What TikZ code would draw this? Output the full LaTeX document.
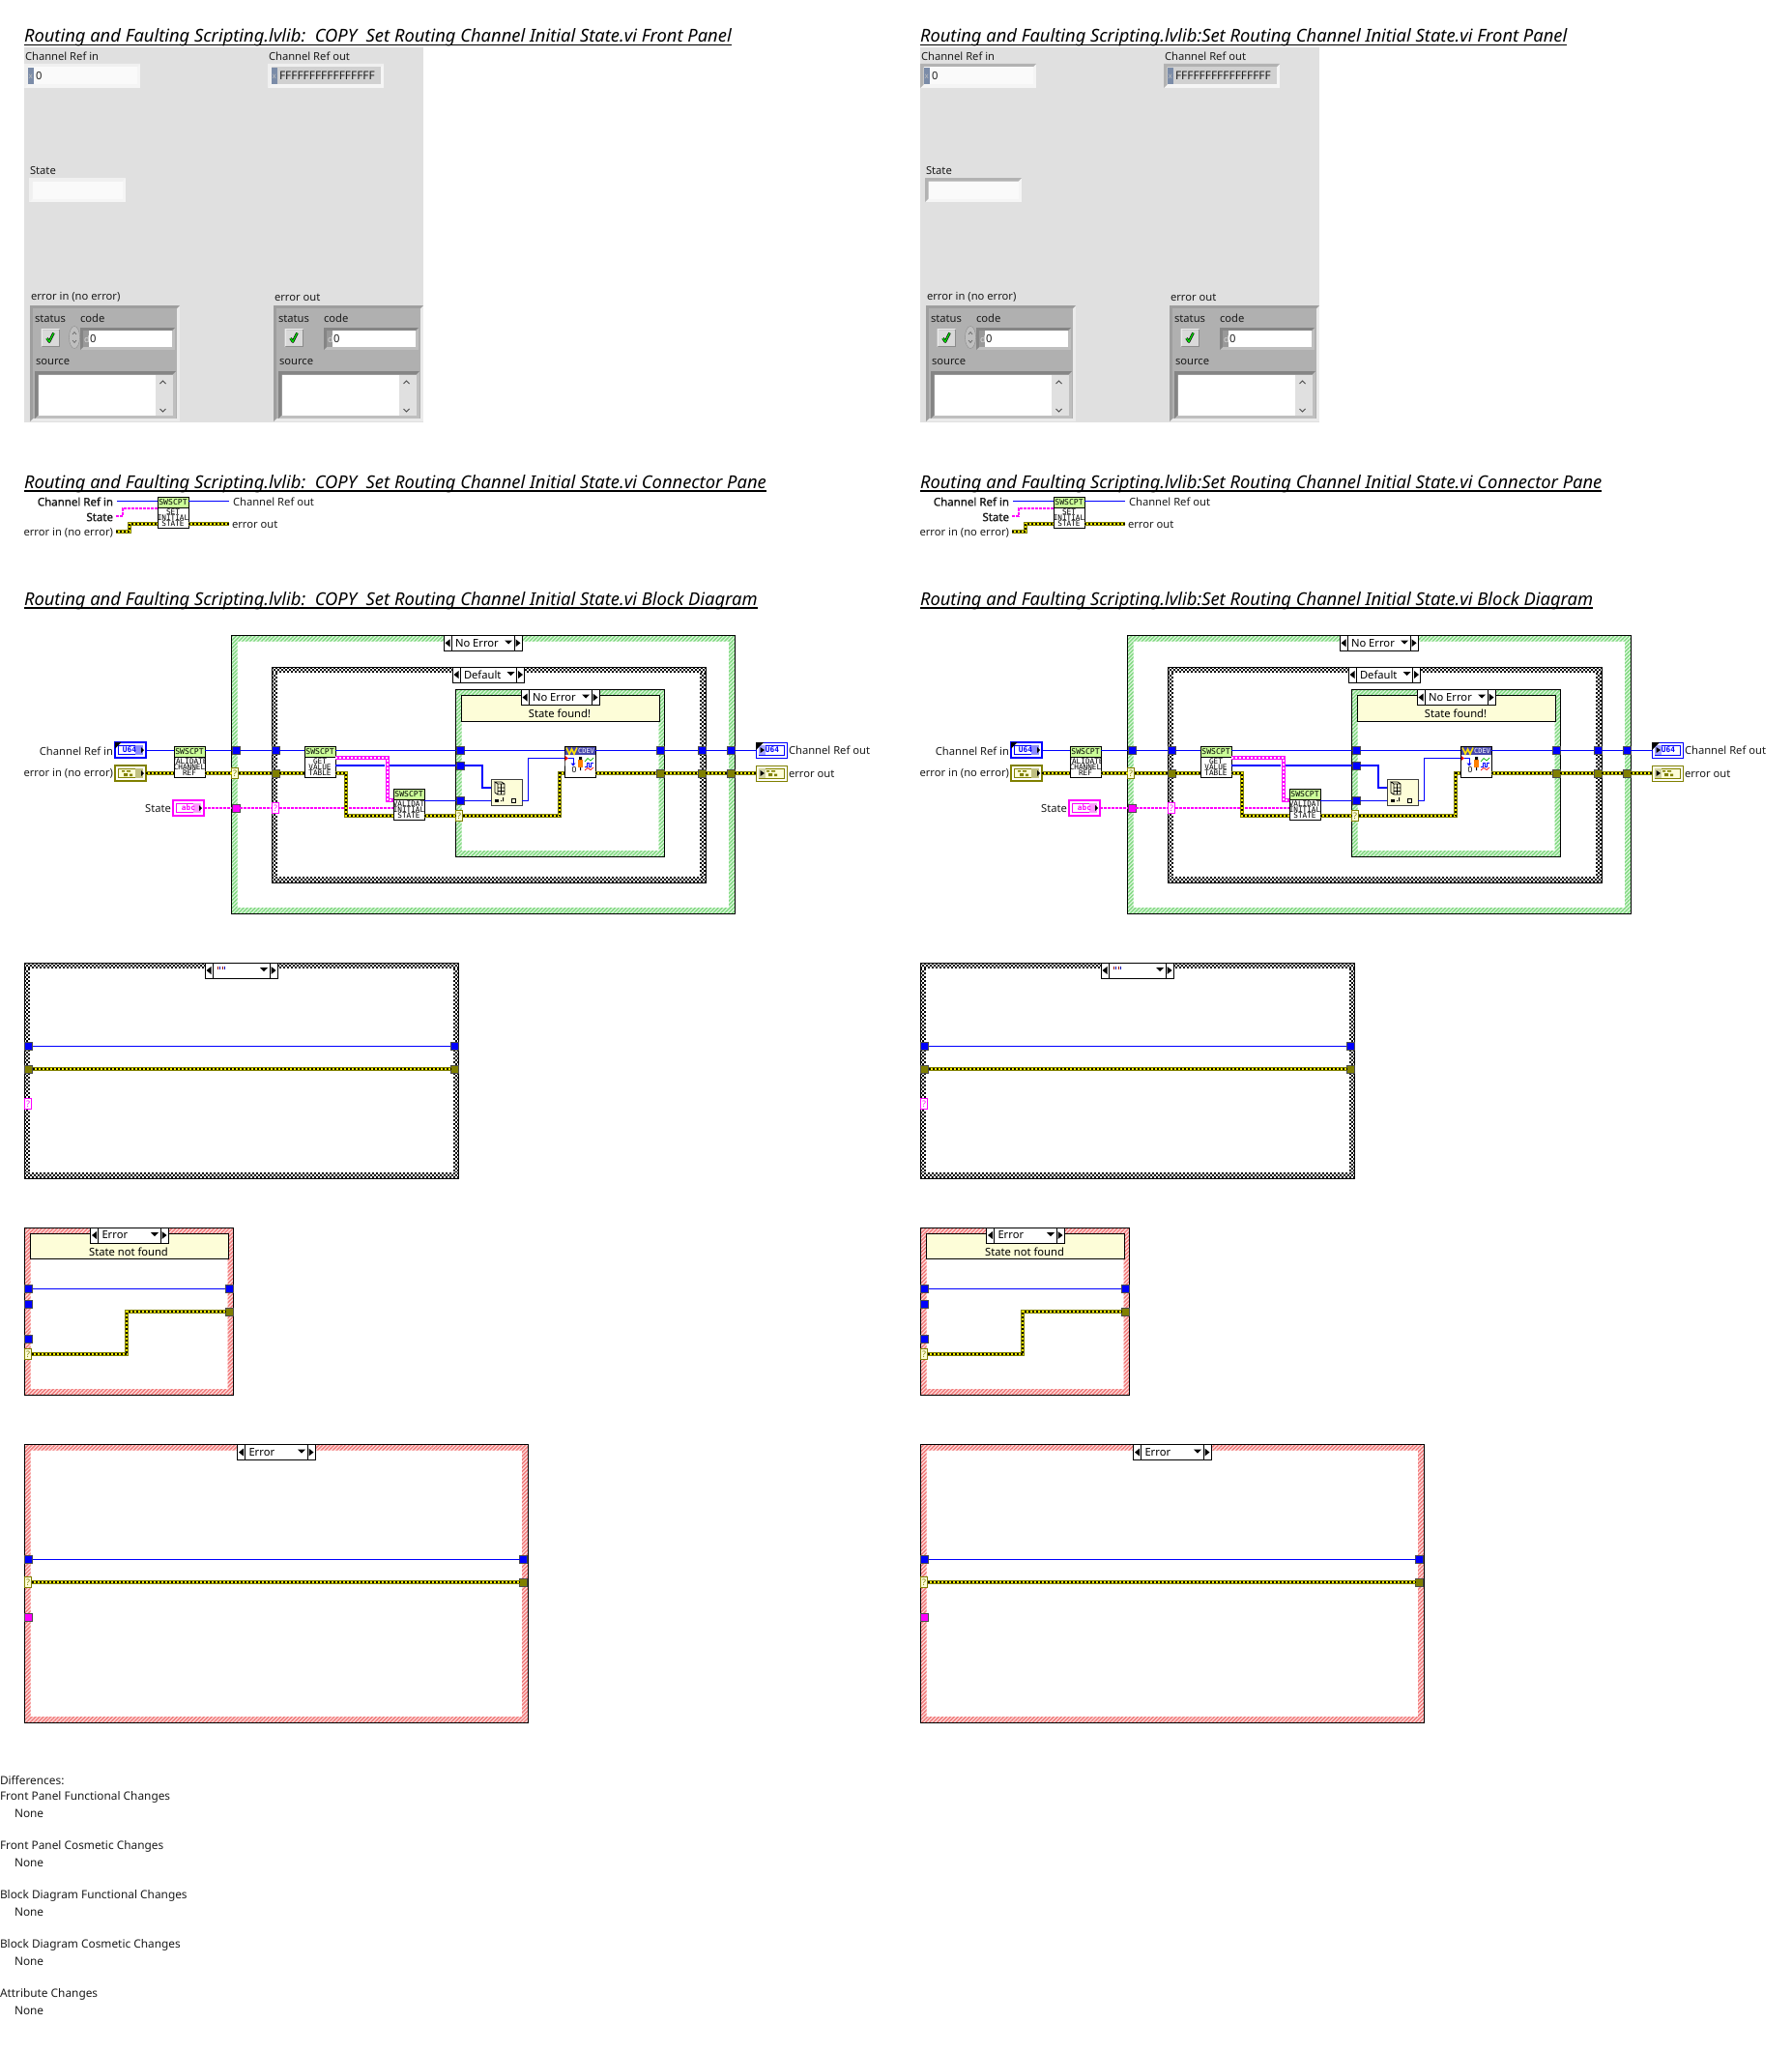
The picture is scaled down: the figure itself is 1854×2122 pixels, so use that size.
\documentclass[tikz,border=0pt]{standalone}
\usepackage{fontspec}
\setmainfont{Noto Sans}
\newfontfamily\iconfont{DejaVu Sans Mono}
\newfontfamily\lvboldfont[FakeBold=1.4]{Noto Sans}
\usetikzlibrary{patterns,patterns.meta}
\definecolor{lvolive}{HTML}{808000}
\definecolor{lvpanel}{HTML}{E0E0E0}
\definecolor{lvcluster}{HTML}{B0B0B0}
\definecolor{lvnote}{HTML}{FDFDD8}
\definecolor{lvgreen}{HTML}{CCFF99}
\definecolor{lvtxt}{HTML}{1C1C1C}
\definecolor{lvradix}{HTML}{7B8CA8}
\definecolor{lvblue}{HTML}{0000FF}
\definecolor{lvpink}{HTML}{FF00FF}
\definecolor{stripegreen}{HTML}{80D880}
\definecolor{basegreen}{HTML}{E0F8E0}
\definecolor{stripered}{HTML}{F07878}
\definecolor{basered}{HTML}{FFE0E0}
\colorlet{fpdark}{white}
\tikzset{
  lbl/.style={anchor=west,inner sep=0,outer sep=0,text=lvtxt,font=\fontsize{11.2}{13}\selectfont},
  lblr/.style={lbl,anchor=east},
  lblb/.style={lblr,font=\fontsize{11.5}{13}\lvboldfont},
  lbld/.style={lbl,font=\fontsize{11.85}{14}\selectfont},
  pagetitle/.style={anchor=base west,inner sep=0,outer sep=0,text=black,font=\fontsize{18.35}{21}\selectfont\itshape},
  rule/.style={line width=1.6pt,black},
  bw/.style={draw=lvblue,line width=1pt},
  bwt/.style={draw=lvblue,line width=2pt,line join=miter},
  errw/.style={draw=lvolive,line width=3.6pt,line join=miter,
    postaction={draw=yellow,line width=1.6pt},
    postaction={draw=black,line width=1.6pt,dash pattern=on 2pt off 2pt}},
  pw/.style={draw=lvpink,line width=1.5pt,dash pattern=on 3pt off 1pt},
  pwa/.style={draw=lvpink,line width=4pt,line join=miter,
    postaction={draw=white,line width=1.4pt,dash pattern=on 2pt off 2pt}},
  tb/.style={draw=black!70,line width=.8pt,fill=lvblue,minimum size=8pt,inner sep=0,outer sep=0},
  te/.style={tb,fill=lvolive},
  tp/.style={tb,fill=lvpink},
  qe/.style={draw=lvolive,line width=.8pt,fill=lvnote,minimum width=7pt,minimum height=11.5pt,inner sep=0,outer sep=0,text=lvolive,font=\fontsize{9}{9}\selectfont},
  qp/.style={qe,draw=lvpink,fill=white,text=lvpink},
  stripes/.style={pattern={Lines[angle=45,distance=2.8pt,line width=1.4pt]}},
  chkline/.style={black,line width=2pt,dash pattern=on 2pt off 2pt},
  iconline/.style={inner sep=0,outer sep=0,font=\fontsize{7.7}{8}\iconfont,text=black},
}
\newcommand\rbox[6][]{%
  \pgfmathsetmacro\lvcx{(#3+#5)/2}\pgfmathsetmacro\lvcy{(#4+#6)/2}%
  \pgfmathsetmacro\lvw{#5-#3}\pgfmathsetmacro\lvh{#6-#4}%
  \node[rectangle,inner sep=0,outer sep=0,minimum width=\lvw pt,minimum height=\lvh pt,#1] (#2) at (\lvcx,\lvcy) {};}
\newcommand\bezel[8]{% x0 y0 x1 y1 w dark light inner
  \fill[#7] (#1,#2) rectangle (#3,#4);
  \fill[#6] (#1,#2) -- (#3,#2) -- (#3-#5,#2+#5) -- (#1+#5,#2+#5) -- (#1+#5,#4-#5) -- (#1,#4) -- cycle;
  \fill[#8] (#1+#5,#2+#5) rectangle (#3-#5,#4-#5);}
\newcommand\ring[6]{% name colour-suffix x0 y0 x1 y1
  \fill[base#2,even odd rule] (#3,#4) rectangle (#5,#6) (#3+6,#4+6) rectangle (#5-6,#6-6);
  \path[stripes,pattern color=stripe#2,even odd rule] (#3,#4) rectangle (#5,#6) (#3+6,#4+6) rectangle (#5-6,#6-6);
  \rbox[draw=black,line width=1pt]{#1}{#3}{#4}{#5}{#6}}
\newcommand\checkring[5]{% name x0 y0 x1 y1
  \foreach \lvi/\lvp in {1/0pt,3/2pt,5/0pt}{
    \draw[chkline,dash phase=\lvp] (#2,#3+\lvi) -- (#4,#3+\lvi);
    \draw[chkline,dash phase=\lvp] (#2,#5-\lvi) -- (#4,#5-\lvi);
    \draw[chkline,dash phase=\lvp] (#2+\lvi,#3+6) -- (#2+\lvi,#5-6);
    \draw[chkline,dash phase=\lvp] (#4-\lvi,#3+6) -- (#4-\lvi,#5-6);
  }
  \rbox[draw=black,line width=1pt]{#1}{#2}{#3}{#4}{#5}}
\newcommand\selector[6]{% name x0 y0 x1 y1 text
  \rbox[draw=black,line width=1pt,fill=white]{#1}{#2}{#3}{#4}{#5}
  \draw[black,line width=1pt] (#2+8,#3) -- (#2+8,#5) (#4-8,#3) -- (#4-8,#5);
  \fill[black] (#2+1.5,#3/2+#5/2) -- (#2+6.5,#3/2+#5/2-4) -- (#2+6.5,#3/2+#5/2+4) -- cycle;
  \fill[black] (#4-1.5,#3/2+#5/2) -- (#4-6.5,#3/2+#5/2-4) -- (#4-6.5,#3/2+#5/2+4) -- cycle;
  \fill[black] (#4-18,#3+5) -- (#4-10,#3+5) -- (#4-14,#3+9) -- cycle;
  \node[lbl,text=black] (#1-t) at (#2+12,#3/2+#5/2) {#6};}
\newcommand\swicon[6]{% name x0 y0 l1 l2 l3
  \rbox[fill=white]{#1}{#2}{#3}{#2+32}{#3+32}
  \fill[lvgreen] (#2,#3) rectangle (#2+32,#3+11);
  \begin{scope}
    \clip (#2,#3) rectangle (#2+32,#3+32);
    \node[iconline,font=\fontsize{8.1}{8}\iconfont] (#1-h) at (#2+16,#3+5.5) {SWSCPT};
    \node[iconline] (#1-a) at (#2+16,#3+15.5) {#4};
    \node[iconline] (#1-b) at (#2+16,#3+21.3) {#5};
    \node[iconline] (#1-c) at (#2+16,#3+27.3) {#6};
  \end{scope}
  \draw[black,line width=1pt] (#2,#3+11) -- (#2+32,#3+11) (#2,#3) rectangle (#2+32,#3+32);}
\newcommand\blocks[3]{% x y colour : cluster glyph
  \fill[#3] (#1,#2) rectangle (#1+3,#2+1.5) (#1+5,#2) rectangle (#1+9,#2+1.5)
            (#1+2,#2+3) rectangle (#1+6,#2+6) (#1+8,#2+3.5) rectangle (#1+11,#2+6);}
\newcommand\chk[2]{% centre x y : green check
  \draw[black,line width=2.6pt,line join=round] (#1-3.5,#2+0.5) -- (#1-1,#2+4) -- (#1+3.5,#2-5);
  \draw[green!90!black,line width=1.3pt,line join=round] (#1-3.5,#2+0.5) -- (#1-1,#2+4) -- (#1+3.5,#2-5);}
\newcommand\errcluster[4]{% name dx withspinner code-label-dx
  \begin{scope}[xshift=#2pt]
  \bezel{31}{316}{186}{436}{3}{black!38}{black!8}{lvcluster}
  \node[lbl] (#1-status) at (36,330) {status};
  \node[lbl] (#1-code) at (83,329) {code};
  \bezel{42.5}{340}{62}{359}{1.5}{black!8}{black!45}{black!15}
  \chk{52}{349.5}
  #3
  \bezel{83}{339}{181}{362}{3}{black!48}{black!25}{white}
  \fill[black!40] (86,342) rectangle (92,359);
  \node[lbl,text=black!15,font=\fontsize{9}{9}\selectfont] (#1-d) at (87,351) {d};
  \node[lbl] (#1-zero) at (93,350.5) {0};
  \node[lbl] (#1-source) at (37,374) {source};
  \bezel{36}{384}{182}{433}{3.5}{black!48}{black!25}{white}
  \fill[lvpanel] (161,387.5) rectangle (178.5,429.5);
  \draw[black!70,line width=1pt] (165.5,397) -- (168.5,394) -- (171.5,397) (165.5,423) -- (168.5,426) -- (171.5,423);
  \end{scope}}
\newcommand\lvfront[1]{%
  \node[pagetitle] (t1) at (25,44) {#1 Front Panel};
  \draw[rule] ([yshift=-2.5pt]t1.base west) -- ([yshift=-2.5pt]t1.base east);
  \fill[lvpanel] (25,49) rectangle (438,437);
  \node[lbl] (fcri) at (26,58) {Channel Ref in};
  \bezel{25}{66}{145}{91}{3.5}{fpdark}{black!4}{black!2}
  \fill[lvradix] (29,70) rectangle (35,87);
  \node[lbl,text=black!25,font=\fontsize{8}{8}\selectfont] (fcri-x) at (29.5,79.5) {x};
  \node[lbl] (fcri-v) at (37,78.5) {0};
  \node[lbl] (fcro) at (278,58) {Channel Ref out};
  \bezel{277}{66}{397}{91}{3.5}{fpdark}{black!4}{black!18}
  \fill[lvradix] (281,70) rectangle (287,87);
  \node[lbl,text=black!25,font=\fontsize{8}{8}\selectfont] (fcro-x) at (281.5,79.5) {x};
  \node[lbl,font=\fontsize{11.9}{13}\selectfont] (fcro-v) at (289,78.5) {FFFFFFFFFFFFFFFF};
  \node[lbl] (fst) at (31,177) {State};
  \bezel{30}{184}{130}{209}{3.5}{fpdark}{black!4}{black!2}
  \node[lbl] (fei) at (32,307.5) {error in (no error)};
  \node[lbl] (feo) at (284,308) {error out};
  \errcluster{cei}{0}{%
    \draw[black!45,fill=black!25] (77,349) ellipse [x radius=5.5,y radius=11.5];
    \draw[black!60,line width=.7pt] (75,346) -- (77,343.5) -- (79,346) (75,352) -- (77,354.5) -- (79,352);}{}
  \errcluster{ceo}{252}{}{}
}
\newcommand\lvpane[1]{%
  \node[pagetitle] (t2) at (25,505.5) {#1 Connector Pane};
  \draw[rule] ([yshift=-2.5pt]t2.base west) -- ([yshift=-2.5pt]t2.base east);
  \swicon{cpi}{163}{514}{SET}{INITIAL}{STATE}
  \node[lblb] (cp1) at (117,519) {Channel Ref in};
  \node[lblb] (cp2) at (117,535) {State};
  \node[lblr] (cp3) at (117,551) {error in (no error)};
  \node[lbl] (cp4) at (241,519) {Channel Ref out};
  \node[lbl] (cp5) at (240,543) {error out};
  \coordinate (cpa) at (121,518.5);
  \coordinate (cpz) at (237,518.5);
  \draw[bw] (cpa) -- (cpa -| cpi.west);
  \draw[bw] (cpa -| cpi.east) -- (cpz);
  \coordinate (cpb) at (127,526);
  \draw[pw] (120,534) coordinate (cpp) -- (cpp -| cpb) -- (cpb) -- (cpb -| cpi.west);
  \coordinate (cpc) at (134,542);
  \draw[errw] (120,550) coordinate (cpe) -- (cpe -| cpc) -- (cpc) -- (cpc -| cpi.west);
  \draw[errw] (cpc -| cpi.east) -- (237,542);
}
\newcommand\termin[7]{% name y-top x-left main inner-fill patch glyph
  \rbox[draw=#4,line width=1.6pt,fill=white]{#1}{#3+.8}{#2+.8}{#3+31.2}{#2+15.2}
  \fill[#5] (#3+3,#2+3) rectangle (#3+29,#2+13);
  \draw[#4,line width=.8pt] (#3+3.5,#2+3.5) rectangle (#3+28.5,#2+12.5);
  \fill[#6] (#3+21,#2+3) rectangle (#3+29,#2+13);
  #7
  \fill[black] (#3+30,#2+8) -- (#3+27,#2+5) -- (#3+27,#2+11) -- cycle;}
\newcommand\termout[7]{% name y-top x-left main inner-fill patch glyph
  \rbox[draw=#4,line width=1pt,fill=white]{#1}{#3+.5}{#2+.5}{#3+31.5}{#2+15.5}
  \fill[#5] (#3+2,#2+2) rectangle (#3+30,#2+14);
  \draw[#4,line width=.8pt] (#3+3,#2+3) rectangle (#3+29,#2+13);
  \fill[#6] (#3+3,#2+3) rectangle (#3+10,#2+13);
  #7
  \fill[black] (#3+9,#2+8) -- (#3+4.5,#2+5) -- (#3+4.5,#2+11) -- cycle;}
\newcommand\ugl[2]{\node[inner sep=0,outer sep=0,text=#2,font=\fontsize{7.8}{8}\iconfont\bfseries] at (#1) {U64};}
\newcommand\lvblock[1]{%
  \node[pagetitle] (t3) at (25,626.5) {#1 Block Diagram};
  \draw[rule] ([yshift=-2.5pt]t3.base west) -- ([yshift=-2.5pt]t3.base east);
  % structures
  \ring{sOut}{green}{239.5}{657.5}{760}{945}
  \checkring{sMid}{281}{690}{730}{913}
  \ring{sIn}{green}{471.5}{713.5}{687.5}{886}
  \selector{selOut}{459}{657.5}{540}{673}{No Error}
  \selector{selMid}{468}{690}{542.5}{706}{Default}
  \rbox[draw=black,line width=1pt,fill=lvnote]{note}{477}{719.5}{682}{746}
  \selector{selIn}{539}{713.5}{620}{729.5}{No Error}
  \node[lbl,anchor=center,text=black] (note-t) at (579,738) {State found!};
  % terminals
  \termin{cri}{768}{119}{lvblue}{white}{blue!45!white}{\ugl{134,776}{lvblue}}
  \fill[black] (119,768) -- (125.5,768) -- (119,774.5) -- cycle;
  \termin{ein}{792}{119}{lvolive}{lvnote}{lvolive!50!white}{\blocks{126}{797}{lvolive}}
  \termin{st}{828}{179}{lvpink}{white}{lvpink!40!white}{\node[inner sep=0,outer sep=0,text=lvpink,font=\fontsize{7.8}{8}\iconfont\bfseries] at (195,836) {abc};}
  \termout{cro}{768}{782}{lvblue}{white}{blue!35!white}{\ugl{799,776}{lvblue}}
  \fill[black] (782,768) -- (790,768) -- (782,776) -- cycle;
  \termout{eou}{792}{782}{lvolive}{lvnote}{lvolive!35!white}{\blocks{793}{797}{lvolive}}
  \node[lblr] (lcri) at (117,777) {Channel Ref in};
  \node[lblr] (lei) at (117,800.5) {error in (no error)};
  \node[lblr] (lst) at (177,836) {State};
  \node[lbl] (lcro) at (816,776) {Channel Ref out};
  \node[lbl] (leo) at (816,800.5) {error out};
  % subVIs
  \swicon{vcr}{180}{772}{VALIDATE}{CHANNEL}{REF}
  \swicon{gvt}{315}{772}{GET}{VALUE}{TABLE}
  \swicon{vis}{407}{816}{VALIDAT}{INITIAL}{STATE}
  \rbox[draw=black!75,line width=1pt,fill=lvnote]{grp}{508}{806}{540}{833}
  \draw[black,line width=.7pt] (515,811) rectangle (522,822) (515,815) -- (522,815) (515,818.5) -- (522,818.5) (518.5,811) -- (518.5,822)
    (515,811) -- (512,809) -- (519,809) -- (522,811) (512,809) -- (512,820) -- (515,822);
  \fill[black] (512,827) rectangle (516,830);
  \fill[black] (518,828) rectangle (519,829) (520,825) rectangle (521,829);
  \draw[black,line width=.8pt] (529,826) rectangle (533,830);
  \rbox[fill=white]{cdev}{584}{772}{616}{804}
  \fill[black!10!blue!45!gray] (584,772) rectangle (616,781);
  \draw[yellow!85!orange,line width=1.6pt] (586,773.5) -- (589,780) -- (591.5,775) -- (594,780) -- (597,773.5);
  \node[inner sep=0,outer sep=0,text=white,font=\fontsize{7}{7}\iconfont] (cdev-t) at (606.5,776.5) {CDEV};
  \fill[red] (584,781.5) -- (588,784.5) -- (584,787.5) -- cycle;
  \draw[lvblue,line width=.8pt] (588,784) -- (593,784) -- (593,791);
  \fill[lvblue] (590.5,789.5) -- (595.5,789.5) -- (593,792.5) -- cycle;
  \node[inner sep=0,outer sep=0,text=black,font=\fontsize{8.5}{9}\selectfont] (cdev-z) at (594,796) {0};
  \fill[orange] (598,786) rectangle (603,794);
  \fill[black] (599,783) rectangle (602,786) (600,794) rectangle (601,797);
  \draw[green!70!black,line width=.7pt] (605,788) -- (608,784.5) -- (611,787) -- (614,784);
  \draw[lvblue,line width=.9pt] (605,793) -- (607,793) -- (607,789.5) -- (609,789.5) -- (609,793) -- (611,793) -- (611,789.5) -- (614,789.5);
  \draw[red,line width=.7pt] (605,797) -- (608,794.5) -- (611,796.5) -- (614,794);
  \draw[black,line width=1pt] (584,781) -- (584,772) -- (616,772) -- (616,804) -- (584,804) -- cycle;
  % tunnels
  \node[tb] (a1) at (244,776) {}; \node[qe] (b1) at (243,800) {?}; \node[tp] (c1) at (244,836) {};
  \node[tb] (a2) at (285,776) {}; \node[te] (b2) at (285,800) {}; \node[qp] (c2) at (285,836) {?};
  \node[tb] (a3) at (476,776) {}; \node[tb] (d3) at (476,792) {}; \node[tb] (f3) at (476,828) {};
  \node[qe] (e3) at (475,844) {?};
  \node[tb] (a4) at (683,776) {}; \node[te] (b4) at (683,800) {};
  \node[tb] (a5) at (726,776) {}; \node[te] (b5) at (726,800) {};
  \node[tb] (a6) at (756,776) {}; \node[te] (b6) at (756,800) {};
  % bends
  \coordinate (bend1) at (358,800); \coordinate (bend2) at (358,844);
  \coordinate (bend3) at (579,844); \coordinate (bend4) at (579,800);
  \coordinate (gap1) at (356,836);  \coordinate (gap2) at (361,836);
  \coordinate (pa1) at (347,784);   \coordinate (pa2) at (401,784); \coordinate (pa3) at (401,828); \coordinate (pa4) at (407,828);
  \coordinate (th0) at (347,792);   \coordinate (th1) at (398,792); \coordinate (th2) at (403,792);
  \coordinate (th3) at (499,792);   \coordinate (th4) at (499,815); \coordinate (th5) at (508,815);
  \coordinate (o1) at (546,828);    \coordinate (o2) at (546,784);  \coordinate (o3) at (584,784);
  % wires
  \draw[bw] (cri.east) -- (cri.east -| vcr.west);
  \draw[bw] (cri.east -| vcr.east) -- (a1.west);
  \draw[bw] (a1.east) -- (a2.west);
  \draw[bw] (a2.east) -- (a2.east -| gvt.west);
  \draw[bw] (a2.east -| gvt.east) -- (a3.west);
  \draw[bw] (a3.east) -- (a3.east -| cdev.west);
  \draw[bw] (a3.east -| cdev.east) -- (a4.west);
  \draw[bw] (a4.east) -- (a5.west);
  \draw[bw] (a5.east) -- (a6.west);
  \draw[bw] (a6.east) -- (cro.west);
  \draw[errw] (ein.east) -- (ein.east -| vcr.west);
  \draw[errw] (ein.east -| vcr.east) -- (b1.west);
  \draw[errw] (b1.east) -- (b2.west);
  \draw[errw] (b2.east) -- (b2.east -| gvt.west);
  \draw[errw] (b2.east -| gvt.east) -- (bend1) -- (bend2) -- (bend2 -| vis.west);
  \draw[errw] (bend2 -| vis.east) -- (e3.west);
  \draw[errw] (e3.east) -- (bend3) -- (bend4) -- (bend4 -| cdev.west);
  \draw[errw] (bend4 -| cdev.east) -- (b4.west);
  \draw[errw] (b4.east) -- (b5.west);
  \draw[errw] (b5.east) -- (b6.west);
  \draw[errw] (b6.east) -- (eou.west);
  \draw[pw] (st.east) -- (c1.west);
  \draw[pw] (c1.east) -- (c2.west);
  \draw[pw] (c2.east) -- (gap1);
  \draw[pw] (gap2) -- (gap2 -| vis.west);
  \draw[pwa] (pa1) -- (pa2) -- (pa3) -- (pa4);
  \draw[bwt] (th0) -- (th1);
  \draw[bwt] (th2) -- (d3.west);
  \draw[bwt] (d3.east) -- (th3) -- (th4) -- (th5);
  \draw[bw] (f3.west -| vis.east) -- (f3.west);
  \draw[bw] (f3.east) -- (f3.east -| grp.west);
  \draw[bw] (f3.east -| grp.east) -- (o1) -- (o2) -- (o3);
  % other frames
  \checkring{sChk}{25}{996}{474.5}{1219}
  \selector{selChk}{212}{996}{287}{1012}{}
  \fill[red!60!black] (225,1000) rectangle (226,1003);
  \fill[lvblue!70!black] (227,1000) rectangle (228,1003);
  \fill[red!60!black] (230,1000) rectangle (231,1003);
  \fill[lvblue!70!black] (232,1000) rectangle (233,1003);
  \node[tb] (g1) at (29.5,1082) {}; \node[tb] (g2) at (470,1082) {};
  \node[te] (h1) at (29.5,1106) {}; \node[te] (h2) at (470,1106) {};
  \node[qp] (j1) at (29,1142) {?};
  \draw[bw] (g1.east) -- (g2.west);
  \draw[errw] (h1.east) -- (h2.west);
  \ring{sErrA}{red}{25.5}{1270}{241.5}{1443}
  \rbox[draw=black,line width=1pt,fill=lvnote]{noteB}{31.5}{1276.5}{236}{1302}
  \selector{selErrA}{93.5}{1270}{174}{1286}{Error}
  \node[lbl,anchor=center,text=black] (noteB-t) at (133,1295) {State not found};
  \node[tb] (k1) at (29.5,1333) {}; \node[tb] (k2) at (237,1333) {};
  \node[tb] (m1) at (29.5,1349) {}; \node[tb] (m2) at (29.5,1385) {};
  \node[qe] (n1) at (29,1401) {?}; \node[te] (n2) at (237,1357) {};
  \coordinate (nb1) at (131,1401); \coordinate (nb2) at (131,1357);
  \draw[bw] (k1.east) -- (k2.west);
  \draw[errw] (n1.east) -- (nb1) -- (nb2) -- (n2.west);
  \ring{sErrB}{red}{25.5}{1494.5}{546}{1782}
  \selector{selErrB}{245.5}{1494.5}{326}{1510.5}{Error}
  \node[tb] (q1) at (29.5,1613) {}; \node[tb] (q2) at (541.5,1613) {};
  \node[qe] (r1) at (29,1637) {?}; \node[te] (r2) at (541.5,1637) {};
  \node[tp] (s1) at (29.5,1673) {};
  \draw[bw] (q1.east) -- (q2.west);
  \draw[errw] (r1.east) -- (r2.west);
}
\begin{document}
\begin{tikzpicture}[x=1pt,y=-1pt,line cap=butt]
\useasboundingbox (0,0) rectangle (1854,2122);
\fill[white] (0,0) rectangle (1854,2122);
\begin{scope}[name prefix=L-]
  \colorlet{fpdark}{black!6}
  \lvfront{Routing and Faulting Scripting.lvlib:\ \ COPY\ \ Set Routing Channel Initial State.vi}
  \lvpane{Routing and Faulting Scripting.lvlib:\ \ COPY\ \ Set Routing Channel Initial State.vi}
  \lvblock{Routing and Faulting Scripting.lvlib:\ \ COPY\ \ Set Routing Channel Initial State.vi}
\end{scope}
\begin{scope}[name prefix=R-,xshift=927pt]
  \colorlet{fpdark}{black!30}
  \lvfront{Routing and Faulting Scripting.lvlib:Set Routing Channel Initial State.vi}
  \lvpane{Routing and Faulting Scripting.lvlib:Set Routing Channel Initial State.vi}
  \lvblock{Routing and Faulting Scripting.lvlib:Set Routing Channel Initial State.vi}
\end{scope}
\node[lbld] (d1) at (0,1842) {Differences:};
\node[lbld] (d2) at (0,1859.5) {Front Panel Functional Changes};
\node[lbld] (d3) at (15,1876) {None};
\node[lbld] (d4) at (0,1910.5) {Front Panel Cosmetic Changes};
\node[lbld] (d5) at (15,1927) {None};
\node[lbld] (d6) at (0,1961.5) {Block Diagram Functional Changes};
\node[lbld] (d7) at (15,1978) {None};
\node[lbld] (d8) at (0,2012.5) {Block Diagram Cosmetic Changes};
\node[lbld] (d9) at (15,2029) {None};
\node[lbld] (d10) at (0,2063.5) {Attribute Changes};
\node[lbld] (d11) at (15,2080) {None};
\end{tikzpicture}
\end{document}
